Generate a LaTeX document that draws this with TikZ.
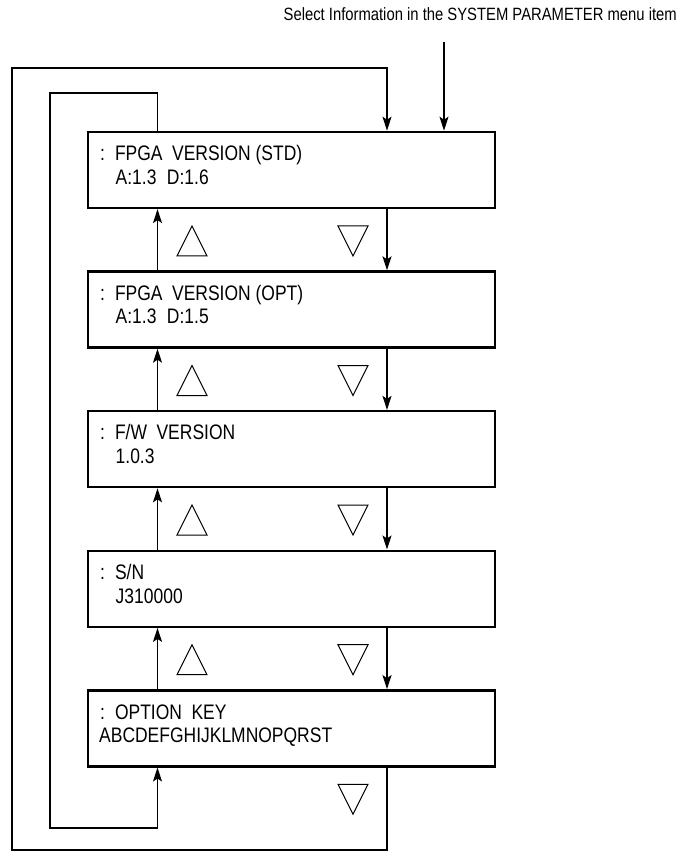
\documentclass[tikz,border=0pt]{standalone}
\usepackage{fontspec}
\setmainfont{Liberation Sans}[FakeStretch=0.832]
\usetikzlibrary{arrows.meta,calc}
\begin{document}
\begin{tikzpicture}[x={(1pt,0pt)}, y={(0pt,-1pt)},
  menubox/.style={draw, line width=2.4pt, minimum width=406.7pt, minimum height=76pt, inner sep=0pt, anchor=north west},
  linetxt/.style={inner sep=0pt, anchor=base west, font=\fontsize{21}{24}\selectfont},
  toptxt/.style={inner sep=0pt, anchor=base east, font=\fontsize{17.8}{20}\selectfont},
  conn/.style={line width=1.3pt},
  arr/.style={conn, -{Stealth[length=14pt,width=9pt,inset=3pt]}},
  tri/.style={line width=1pt, line join=miter}]
\useasboundingbox (0,0) rectangle (680,851);
\fill[white] (0,0) rectangle (680,851);

\coordinate (xu) at (157.5,0);
\coordinate (xd) at (387,0);

\node[menubox] (b1) at (87,130.7) {};
\node[menubox] (b2) at (87,270.3) {};
\node[menubox] (b3) at (87,409.9) {};
\node[menubox] (b4) at (87,549.5) {};
\node[menubox] (b5) at (87,689.1) {};

\node[linetxt] (b1a) at ($(b1.north west)+(13,30)$) {:\hspace{10pt}FPGA\hspace{9.5pt}VERSION (STD)};
\node[linetxt] (b1b) at ($(b1.north west)+(28.5,53.5)$) {A:1.3\hspace{10.5pt}D:1.6};
\node[linetxt] (b2a) at ($(b2.north west)+(13,30)$) {:\hspace{10pt}FPGA\hspace{9.5pt}VERSION (OPT)};
\node[linetxt] (b2b) at ($(b2.north west)+(28.5,53.5)$) {A:1.3\hspace{10.5pt}D:1.5};
\node[linetxt] (b3a) at ($(b3.north west)+(13,30)$) {:\hspace{10pt}F/W\hspace{9.5pt}VERSION};
\node[linetxt] (b3b) at ($(b3.north west)+(28.5,53.5)$) {1.0.3};
\node[linetxt] (b4a) at ($(b4.north west)+(13,30)$) {:\hspace{10pt}S/N};
\node[linetxt] (b4b) at ($(b4.north west)+(28.5,53.5)$) {J310000};
\node[linetxt] (b5a) at ($(b5.north west)+(13,30)$) {:\hspace{10pt}OPTION\hspace{9.5pt}KEY};
\node[linetxt] (b5b) at ($(b5.north west)+(12,53.5)$) {ABCDEFGHIJKLMNOPQRST};

\node[toptxt] (sel) at (677,21) {Select Information in the SYSTEM PARAMETER menu item};
\coordinate (selStart) at (444,42);
\draw[arr] (selStart) -- (selStart |- b1.north);

% down arrows
\draw[arr] (b1.south -| xd) -- (b2.north -| xd);
\draw[arr] (b2.south -| xd) -- (b3.north -| xd);
\draw[arr] (b3.south -| xd) -- (b4.north -| xd);
\draw[arr] (b4.south -| xd) -- (b5.north -| xd);
% up arrows
\draw[arr] (b2.north -| xu) -- (b1.south -| xu);
\draw[arr] (b3.north -| xu) -- (b2.south -| xu);
\draw[arr] (b4.north -| xu) -- (b3.south -| xu);
\draw[arr] (b5.north -| xu) -- (b4.south -| xu);

% outer loop
\coordinate (outerBL) at (12,850);
\coordinate (outerTL) at (12,68);
\draw[arr] (b5.south -| xd) -- (xd |- outerBL) -- (outerBL) -- (outerTL) -- (xd |- outerTL) -- (b1.north -| xd);
% inner loop
\coordinate (innerTL) at (50,93);
\coordinate (innerBL) at (50,828);
\draw[arr] (b1.north -| xu) -- (xu |- innerTL) -- (innerTL) -- (innerBL) -- (xu |- innerBL) -- (b5.south -| xu);

% triangles
\foreach \b in {b1,b2,b3,b4}{
  \draw[tri] ($(\b.south west)+(90,46.8)$) -- ++(30,0) -- ++(-15,-30) -- cycle;
  \draw[tri] ($(\b.south west)+(251,16.8)$) -- ++(30,0) -- ++(-15,30) -- cycle;
}
\draw[tri] ($(b5.south west)+(251,16.8)$) -- ++(30,0) -- ++(-15,30) -- cycle;
\end{tikzpicture}
\end{document}
